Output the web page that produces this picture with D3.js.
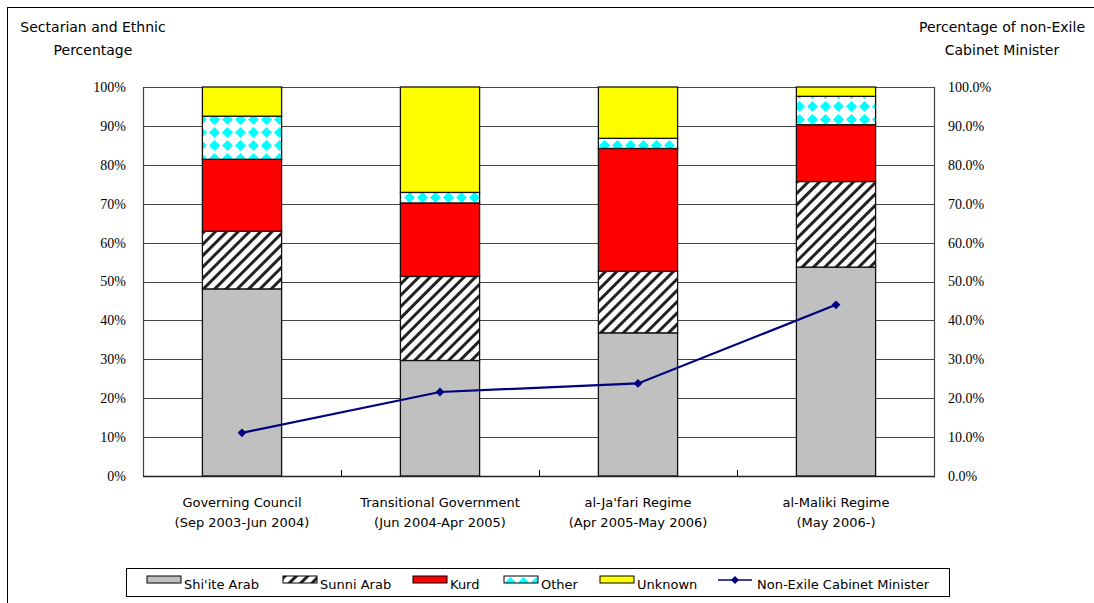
<!DOCTYPE html>
<html lang="en">
<head>
  <meta charset="UTF-8">
  <title>Sectarian and Ethnic Percentage</title>
  <script src="https://cdn.jsdelivr.net/npm/d3@7"></script>
  <style>
    html, body {
      margin: 0;
      padding: 0;
      background: #fff;
      overflow: hidden;
    }
    text {
      font-family: "DejaVu Sans", sans-serif;
    }
    .num {
      font-family: "Liberation Serif", serif;
      font-size: 14px;
    }
  </style>
</head>
<body>
  <svg id="chart" width="1094" height="603"></svg>
  <script>
    const categories = [
      ['Governing Council', '(Sep 2003-Jun 2004)'],
      ['Transitional Government', '(Jun 2004-Apr 2005)'],
      ['al-Ja\'fari Regime', '(Apr 2005-May 2006)'],
      ['al-Maliki Regime', '(May 2006-)']
    ];
    const seriesNames = ['Shi\'ite Arab', 'Sunni Arab', 'Kurd', 'Other', 'Unknown'];
    const shiite = [48.1, 29.7, 36.8, 53.7];
    const sunni = [14.8, 21.6, 15.8, 22.0];
    const kurd = [18.5, 18.9, 31.6, 14.6];
    const other = [11.1, 2.7, 2.6, 7.3];
    const unknown = [7.5, 27.1, 13.2, 2.4];
    const nonExile = [11.1, 21.6, 23.8, 44.0];
    const lineName = 'Non-Exile Cabinet Minister';
    const yTicks = [0, 10, 20, 30, 40, 50, 60, 70, 80, 90, 100];

    const svg = d3.select('#chart');
    const defs = svg.append('defs');

    // hatch for sunni
    const hatch = defs.append('pattern')
      .attr('id', 'hatch')
      .attr('patternUnits', 'userSpaceOnUse')
      .attr('width', 8).attr('height', 8)
      .attr('patternTransform', 'rotate(45)');
    hatch.append('rect').attr('width', 8).attr('height', 8).attr('fill', '#fff');
    hatch.append('rect').attr('width', 3).attr('height', 8).attr('fill', '#222');

    // diamonds for other
    const dia = defs.append('pattern')
      .attr('id', 'diamond')
      .attr('patternUnits', 'userSpaceOnUse')
      .attr('width', 13).attr('height', 13);
    dia.append('rect').attr('width', 13).attr('height', 13).attr('fill', '#fff');
    dia.append('path').attr('d', 'M6.5,1 L12,6.5 L6.5,12 L1,6.5 Z').attr('fill', '#00ffff');

    const fills = ['#c0c0c0', 'url(#hatch)', '#ff0000', 'url(#diamond)', '#ffff00'];

    const margin = {left: 143, right: 159, top: 87, bottom: 127};
    const W = 1094, H = 603;
    const plotW = W - margin.left - margin.right;
    const plotH = H - margin.top - margin.bottom;

    // outer frame
    svg.append('rect')
      .attr('x', 7.5).attr('y', 7.5)
      .attr('width', 1100).attr('height', 620)
      .attr('fill', 'none').attr('stroke', '#000').attr('stroke-width', 1);

    const g = svg.append('g').attr('transform', `translate(${margin.left},${margin.top})`);

    const x = d3.scaleBand().domain(d3.range(categories.length)).range([0, plotW]).padding(0);
    const y = d3.scaleLinear().domain([0, 100]).range([plotH, 0]);
    const y2 = d3.scaleLinear().domain([0, 1]).range([plotH, 0]);

    // gridlines
    g.append('g')
      .selectAll('line')
      .data(yTicks)
      .join('line')
      .attr('x1', 0).attr('x2', plotW)
      .attr('y1', d => Math.round(y(d)) + 0.5)
      .attr('y2', d => Math.round(y(d)) + 0.5)
      .attr('stroke', '#444').attr('stroke-width', 1.2);

    // plot sides
    g.append('line').attr('x1', 0.5).attr('x2', 0.5).attr('y1', 0).attr('y2', plotH)
      .attr('stroke', '#444').attr('stroke-width', 1.2);
    g.append('line').attr('x1', plotW - 0.5).attr('x2', plotW - 0.5).attr('y1', 0).attr('y2', plotH)
      .attr('stroke', '#444').attr('stroke-width', 1.2);

    // x ticks at band boundaries (inside)
    g.append('g')
      .selectAll('line')
      .data(d3.range(1, categories.length))
      .join('line')
      .attr('x1', d => Math.round(x(d)) + 0.5)
      .attr('x2', d => Math.round(x(d)) + 0.5)
      .attr('y1', plotH).attr('y2', plotH - 6)
      .attr('stroke', '#000');

    // left axis labels
    const leftAxis = d3.axisLeft(y).tickValues(yTicks).tickSize(0).tickPadding(17)
      .tickFormat(d => d + '%');
    const la = g.append('g').call(leftAxis);
    la.select('.domain').remove();
    la.selectAll('text').attr('class', 'num').attr('fill', '#000');

    const rightAxis = d3.axisRight(y2).tickValues(yTicks.map(d => d / 100)).tickSize(0).tickPadding(13)
      .tickFormat(d3.format('.1%'));
    const ra = g.append('g').attr('transform', `translate(${plotW},0)`).call(rightAxis);
    ra.select('.domain').remove();
    ra.selectAll('text').attr('class', 'num').attr('fill', '#000');

    // stacked bars
    const table = categories.map((c, i) => ({
      i,
      'Shi\'ite Arab': shiite[i],
      'Sunni Arab': sunni[i],
      'Kurd': kurd[i],
      'Other': other[i],
      'Unknown': unknown[i]
    }));
    const stack = d3.stack().keys(seriesNames)(table);
    const barW = x.bandwidth() * 0.4;

    g.append('g')
      .selectAll('g')
      .data(stack)
      .join('g')
      .attr('fill', (d, k) => fills[k])
      .selectAll('rect')
      .data(d => d)
      .join('rect')
      .attr('x', d => x(d.data.i) + (x.bandwidth() - barW) / 2)
      .attr('y', d => y(d[1]))
      .attr('width', barW)
      .attr('height', d => y(d[0]) - y(d[1]))
      .attr('stroke', '#111').attr('stroke-width', 1.3);

    // bottom axis line
    g.append('line').attr('x1', 0).attr('x2', plotW).attr('y1', plotH + 0.5).attr('y2', plotH + 0.5)
      .attr('stroke', '#222').attr('stroke-width', 1.5);

    // non-exile line
    const line = d3.line()
      .x((d, i) => x(i) + x.bandwidth() / 2)
      .y(d => y(d));
    g.append('path')
      .datum(nonExile)
      .attr('d', line)
      .attr('fill', 'none')
      .attr('stroke', '#000080')
      .attr('stroke-width', 2.2);
    g.append('g')
      .selectAll('path')
      .data(nonExile)
      .join('path')
      .attr('transform', (d, i) => `translate(${x(i) + x.bandwidth() / 2},${y(d)})`)
      .attr('d', d3.symbol(d3.symbolDiamond2, 50))
      .attr('fill', '#000080');

    // category labels
    const cat = g.append('g')
      .selectAll('text')
      .data(categories)
      .join('text')
      .attr('x', (d, i) => x(i) + x.bandwidth() / 2)
      .attr('y', plotH + 31)
      .attr('text-anchor', 'middle')
      .attr('font-size', 13);
    cat.append('tspan').text(d => d[0]);
    cat.append('tspan')
      .attr('x', (d, i) => x(i) + x.bandwidth() / 2)
      .attr('dy', 20)
      .text(d => d[1]);

    // axis titles
    const lt = svg.append('text').attr('font-size', 14).attr('text-anchor', 'middle');
    lt.append('tspan').attr('x', 93).attr('y', 32).text('Sectarian and Ethnic');
    lt.append('tspan').attr('x', 93).attr('y', 55).text('Percentage');
    const rt = svg.append('text').attr('font-size', 14).attr('text-anchor', 'middle');
    rt.append('tspan').attr('x', 1002).attr('y', 32).text('Percentage of non-Exile');
    rt.append('tspan').attr('x', 1002).attr('y', 55).text('Cabinet Minister');

    // legend
    const lg = svg.append('g');
    lg.append('rect')
      .attr('x', 126.5).attr('y', 568.5)
      .attr('width', 823).attr('height', 28)
      .attr('fill', '#fff').attr('stroke', '#000').attr('stroke-width', 1);

    const legendX = [147, 283, 413, 504, 600];
    const items = lg.selectAll('g.item')
      .data(seriesNames)
      .join('g')
      .attr('class', 'item')
      .attr('transform', (d, k) => `translate(${legendX[k]},576)`);
    items.append('rect')
      .attr('width', 34).attr('height', 7)
      .attr('fill', (d, k) => fills[k])
      .attr('stroke', '#000').attr('stroke-width', 1);
    items.append('text')
      .attr('x', 37).attr('y', 13)
      .attr('font-size', 13)
      .text(d => d);

    const li = lg.append('g').attr('transform', 'translate(718,580)');
    li.append('line').attr('x1', 0).attr('x2', 34).attr('y1', 0).attr('y2', 0)
      .attr('stroke', '#000080').attr('stroke-width', 1.5);
    li.append('path').attr('transform', 'translate(17,0)')
      .attr('d', d3.symbol(d3.symbolDiamond2, 40)).attr('fill', '#000080');
    li.append('text').attr('x', 39).attr('y', 9).attr('font-size', 13).text(lineName);
  </script>
</body>
</html>
